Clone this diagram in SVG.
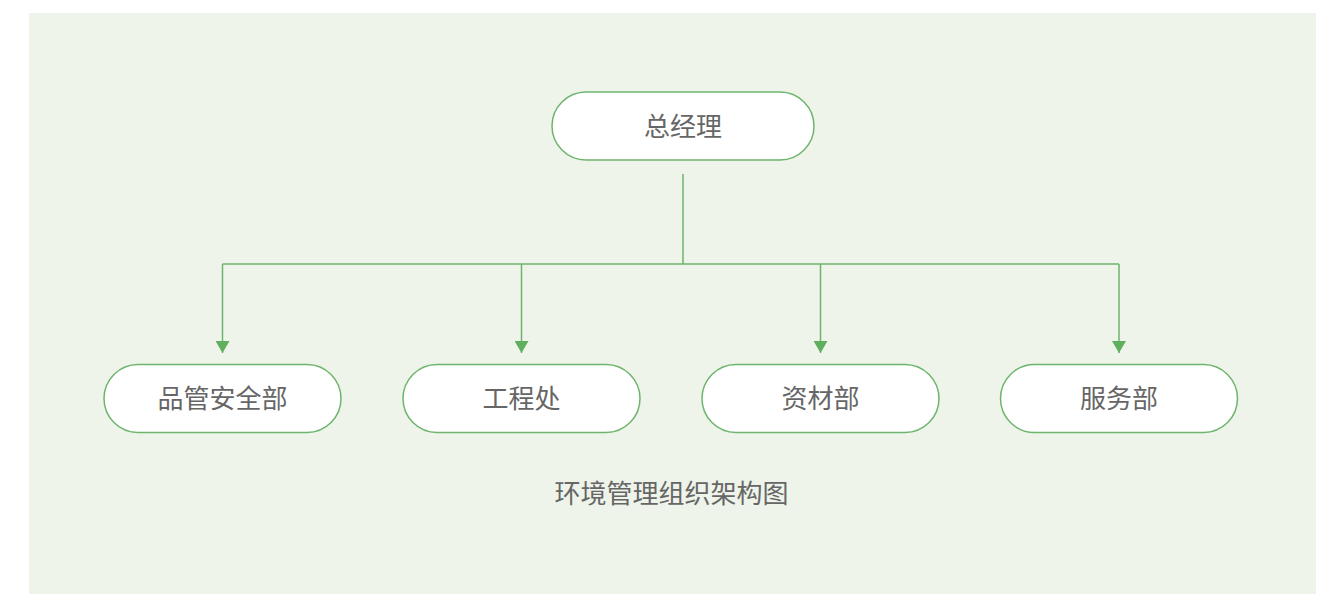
<svg xmlns="http://www.w3.org/2000/svg" width="1323" height="594" viewBox="0 0 1323 594">
<style>
.node rect{fill:#ffffff;stroke:#6db46d;stroke-width:1.5}
.node text{font-family:"Noto Sans CJK SC","Noto Sans",sans-serif;font-size:26px;fill:#666666;text-anchor:middle;dominant-baseline:central}
.title{font-family:"Noto Sans CJK SC","Noto Sans",sans-serif;font-size:26px;fill:#666666;text-anchor:middle;dominant-baseline:central}
#connectors path{fill:none;stroke:#6db46d;stroke-width:1.5}
</style>
<defs>
<marker id="tri" viewBox="0 0 12 14" refX="12" refY="7" markerWidth="12" markerHeight="14" markerUnits="userSpaceOnUse" orient="auto">
<path d="M0,0 L12,7 L0,14 Z" fill="#5faf5f"/>
</marker>
</defs>
<rect x="29" y="13" width="1287" height="581" fill="#eef4ea"/>
<g id="connectors">
<path d="M683,174 V264"/>
<path d="M222.5,264 H1119"/>
<path d="M222.5,264 V353" marker-end="url(#tri)"/>
<path d="M521.5,264 V353" marker-end="url(#tri)"/>
<path d="M820.5,264 V353" marker-end="url(#tri)"/>
<path d="M1119,264 V353" marker-end="url(#tri)"/>
</g>
<g id="n0" class="node"><rect x="552" y="92" width="262" height="68" rx="34"/><text x="683" y="124">总经理</text></g>
<g id="n1" class="node"><rect x="104" y="364.5" width="237" height="68" rx="34"/><text x="222.5" y="396.5">品管安全部</text></g>
<g id="n2" class="node"><rect x="403" y="364.5" width="237" height="68" rx="34"/><text x="521.5" y="396.5">工程处</text></g>
<g id="n3" class="node"><rect x="702" y="364.5" width="237" height="68" rx="34"/><text x="820.5" y="396.5">资材部</text></g>
<g id="n4" class="node"><rect x="1000.5" y="364.5" width="237" height="68" rx="34"/><text x="1119" y="396.5">服务部</text></g>
<text class="title" x="671.5" y="491">环境管理组织架构图</text>
</svg>
